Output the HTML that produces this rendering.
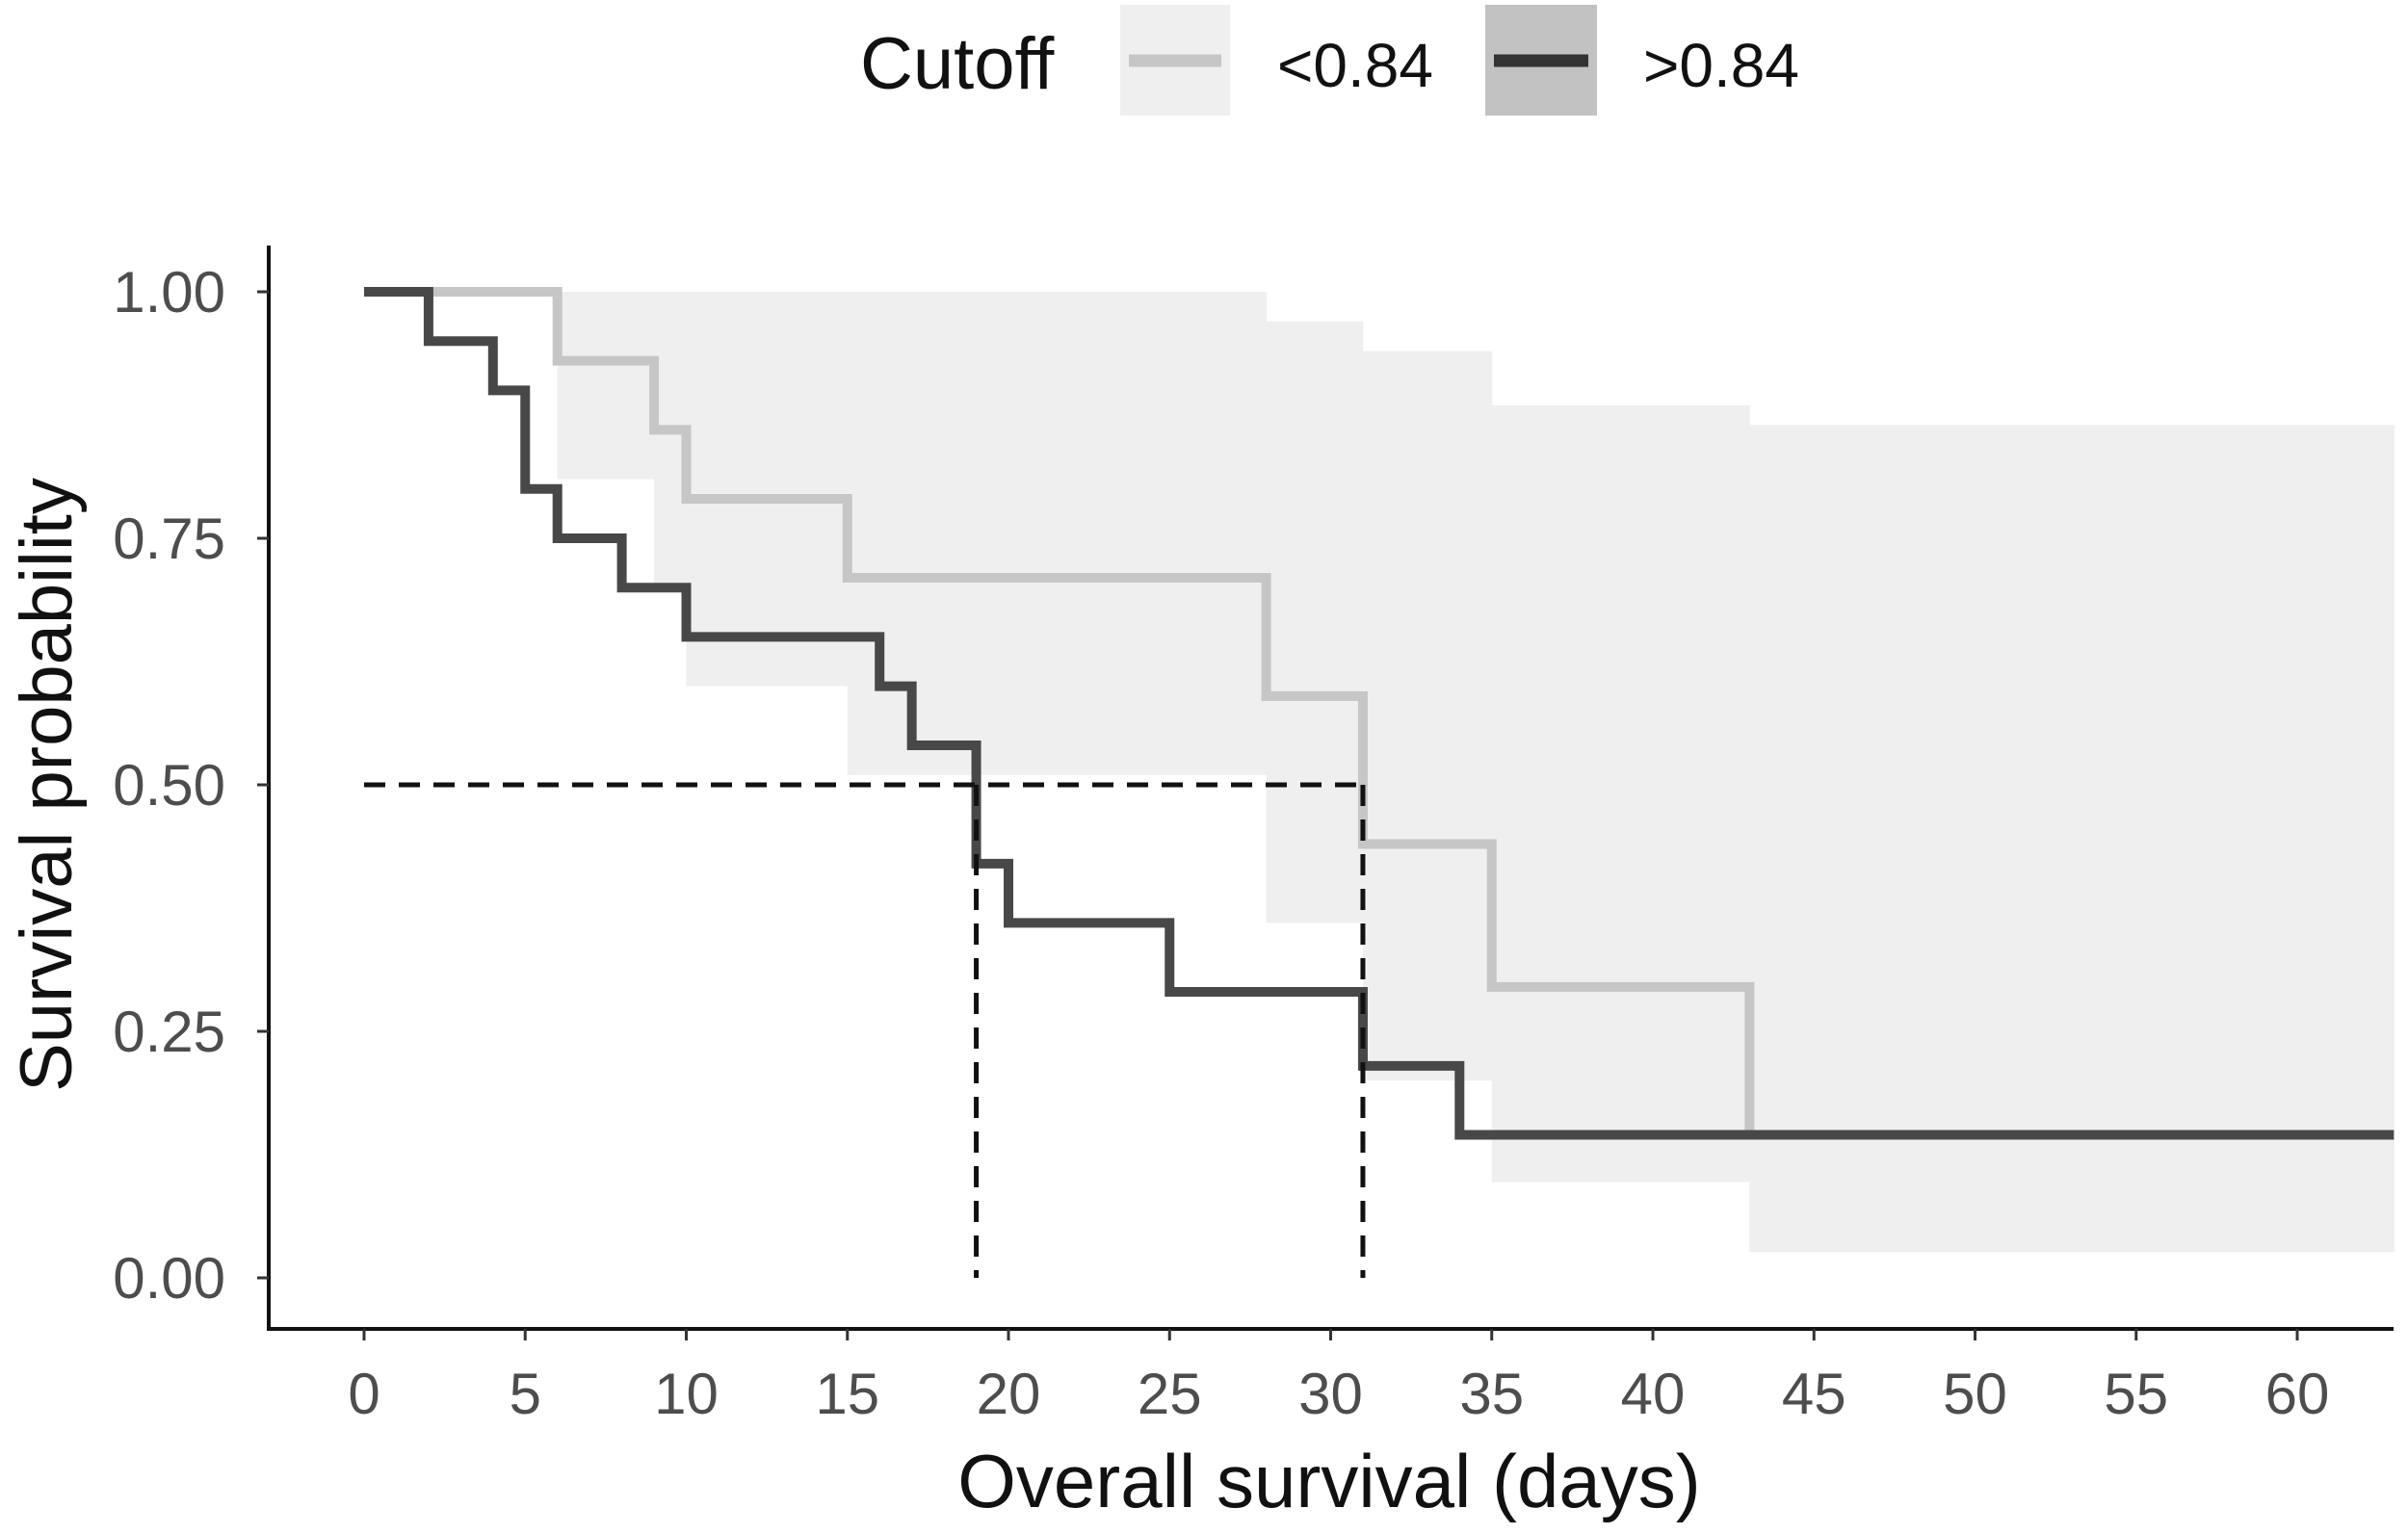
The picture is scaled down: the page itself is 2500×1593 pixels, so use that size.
<!DOCTYPE html>
<html><head><meta charset="utf-8"><style>
html,body{margin:0;padding:0;background:#fff;}
svg{display:block;font-family:"Liberation Sans",sans-serif;}
</style></head><body>
<svg id="chart" width="2500" height="1593" viewBox="0 0 2500 1593" xmlns="http://www.w3.org/2000/svg">
<g id="legend">
<text x="893" y="92" font-size="76" fill="#111">Cutoff</text>
<rect x="1163" y="5" width="114" height="115" fill="#efefef"/>
<line x1="1172" y1="63" x2="1268" y2="63" stroke="#c6c6c6" stroke-width="13"/>
<text x="1326" y="90" font-size="64" fill="#111">&lt;0.84</text>
<rect x="1542" y="5" width="116" height="115" fill="#c2c2c2"/>
<line x1="1551" y1="63" x2="1649" y2="63" stroke="#333" stroke-width="13"/>
<text x="1706" y="90" font-size="64" fill="#111">&gt;0.84</text>
</g>
<g id="bands"></g>
<g id="lines"></g>
<g id="axes"></g>
<text x="1380" y="1565" font-size="78" text-anchor="middle" fill="#111">Overall survival (days)</text>
<text transform="translate(74,815) rotate(-90)" font-size="76" text-anchor="middle" fill="#111">Survival probability</text>
</svg>
<script>
const lowTimes=[0,6,9,10,15,28,31,35,43];
const lowSurv=[1.0,0.93,0.86,0.79,0.71,0.59,0.44,0.295,0.147];
const lowUpper=[1.0,1.0,1.0,1.0,1.0,0.97,0.94,0.885,0.865];
const lowLower=[1.0,0.81,0.70,0.60,0.51,0.36,0.20,0.097,0.026];
const highTimes=[0,2,4,5,6,8,10,16,17,19,20,25,31,34];
const highSurv=[1.0,0.95,0.90,0.80,0.75,0.70,0.65,0.60,0.54,0.42,0.36,0.29,0.215,0.145];
const medians=[19,31];
const xTicks=[0,5,10,15,20,25,30,35,40,45,50,55,60];
const yTicks=[0,0.25,0.5,0.75,1.0];
const yTickLabels=["0.00","0.25","0.50","0.75","1.00"];
const xMax=63;
const NS="http://www.w3.org/2000/svg";
const X=t=>378+t*33.45;
const Y=v=>1327-v*1024;
function mk(tag,attrs,parent){const e=document.createElementNS(NS,tag);for(const k in attrs)e.setAttribute(k,attrs[k]);parent.appendChild(e);return e;}
const bands=document.getElementById('bands'),lines=document.getElementById('lines'),axes=document.getElementById('axes');
for(let i=0;i<lowTimes.length;i++){
  const t0=lowTimes[i],t1=i+1<lowTimes.length?lowTimes[i+1]:xMax;
  const r=mk('rect',{x:X(t0),y:Y(lowUpper[i]),width:X(t1)-X(t0)+0.5,height:Y(lowLower[i])-Y(lowUpper[i]),fill:'#efefef'},bands);
  
  
}
function stepPath(times,surv,end){let d=`M${X(times[0])},${Y(surv[0])}`;for(let i=1;i<times.length;i++){d+=` H${X(times[i])} V${Y(surv[i])}`;}if(end!=null)d+=` H${X(end)}`;return d;}
const pl=mk('path',{d:stepPath(lowTimes,lowSurv,null),fill:'none',stroke:'#c6c6c6','stroke-width':10},lines);


const ph=mk('path',{d:stepPath(highTimes,highSurv,xMax),fill:'none',stroke:'#484848','stroke-width':10},lines);


const hd=mk('line',{x1:X(0),y1:Y(0.5),x2:X(Math.max(...medians)),y2:Y(0.5),stroke:'#111','stroke-width':5,'stroke-dasharray':'22 14'},lines);


medians.forEach(m=>{const v=mk('line',{x1:X(m),y1:Y(0.5),x2:X(m),y2:Y(0),stroke:'#111','stroke-width':5,'stroke-dasharray':'22 14'},lines);

});
const ya=mk('line',{x1:279,y1:255,x2:279,y2:1380,stroke:'#111','stroke-width':4},axes);


const xa=mk('line',{x1:277,y1:1380,x2:2485,y2:1380,stroke:'#111','stroke-width':4},axes);


xTicks.forEach(t=>{mk('line',{x1:X(t),y1:1380,x2:X(t),y2:1392,stroke:'#333','stroke-width':3},axes);
const tx=mk('text',{x:X(t),y:1468,'font-size':60,'text-anchor':'middle',fill:'#4d4d4d'},axes);tx.textContent=t;

});
yTicks.forEach((v,i)=>{mk('line',{x1:267,y1:Y(v),x2:279,y2:Y(v),stroke:'#333','stroke-width':3},axes);
const tx=mk('text',{x:234,y:Y(v)+21,'font-size':60,'text-anchor':'end',fill:'#4d4d4d'},axes);tx.textContent=yTickLabels[i];

});
</script>
</body></html>
